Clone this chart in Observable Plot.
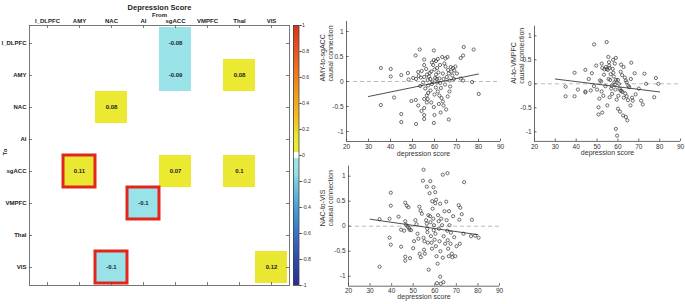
<!DOCTYPE html>
<html><head><meta charset="utf-8">
<script src="https://cdn.jsdelivr.net/npm/d3@7"></script>
<script src="https://cdn.jsdelivr.net/npm/@observablehq/plot@0.6"></script>
<style>
body{margin:0;background:#fff;}
#fig{position:relative;width:685px;height:304px;overflow:hidden;background:#fff;}
#fig svg{position:absolute;}
</style></head><body><div id="fig"></div>
<script>
// ---------- heatmap data ----------
const regions = ["l_DLPFC","AMY","NAC","AI","sgACC","VMPFC","Thal","VIS"];
const cellTo   = ["l_DLPFC","AMY","AMY","NAC","sgACC","sgACC","sgACC","VMPFC","VIS","VIS"];
const cellFrom = ["sgACC","sgACC","Thal","NAC","AMY","sgACC","Thal","AI","NAC","VIS"];
const cellValue = [-0.08,-0.09,0.08,0.08,0.11,0.07,0.1,-0.1,-0.1,0.12];
const cellSignificant = [false,false,false,false,true,false,false,true,true,false];

// ---------- colour bar ----------
const colorbarTicks = [-1,-0.8,-0.6,-0.4,-0.2,0,0.2,0.4,0.6,0.8,1];
const colorStops = [-1,-0.8,-0.6,-0.4,-0.2,-0.15,-0.025,-0.0249,0.0249,0.025,0.15,0.2,0.4,0.6,0.8,1];
const colorRange = ["#2c2c90","#2f4cae","#3a74c6","#48a2d6","#78cce0","#94e0e8","#9ee6ea","#ffffff","#ffffff","#ecec30","#e9e634","#efd424","#f2a81e","#ee7f1f","#e85621","#dd301e"];

// ---------- scatter axes ----------
const xTicks = [20,30,40,50,60,70,80,90];
const yTicks = [-1,-0.5,0,0.5,1];

// ---------- scatter data: [depression score, causal connection] ----------
const amyToSgacc = [[35.6,0.27],[35.6,-0.47],[40.1,0.25],[40.1,0.10],[41.6,-0.32],[44.9,0.13],[44.9,-0.65],[44.9,-0.81],[47.9,0.17],[48.2,0.04],[49.5,-0.39],[50.3,0.07],[51.4,0.52],[51.5,-0.37],[51.6,-0.85],[51.6,0.05],[52.6,0.19],[52.6,-0.48],[52.8,0.11],[53.3,0.64],[53.5,-0.09],[54.1,-0.59],[55.3,0.44],[55.3,0.33],[55.3,0.09],[55.3,-0.35],[55.3,-0.53],[55.3,-0.67],[55.3,-0.75],[54.8,-0.02],[56.6,0.14],[56.9,0.03],[57.1,-0.08],[57.1,-0.23],[56.5,-0.28],[56.9,-0.35],[56.5,-0.42],[58.5,0.2],[59.7,0.62],[59.7,0.43],[59.4,0.33],[60,0.24],[60.7,0.14],[60.3,0.07],[61.2,-0.02],[60.6,-0.12],[60,-0.26],[59.7,-0.51],[60,-0.67],[59.7,-0.83],[60.7,0.41],[61.2,0.27],[61.5,0.45],[62.2,0.06],[62.6,-0.03],[62.9,-0.13],[62.2,-0.28],[63.5,0.49],[63.8,0.16],[64.1,0.05],[63.8,-0.4],[64.1,-0.48],[65,0.46],[65.9,0.49],[66.2,0.23],[66.5,0.16],[66.8,0.02],[67.1,-0.1],[66.8,-0.2],[66.5,-0.76],[67.4,0.29],[67.7,0.2],[68.1,0.12],[68.8,0.05],[68.4,0.27],[69.5,0.3],[70.2,0.16],[71.9,0.47],[73,0.52],[73.3,0.69],[71.9,0.06],[73,0.02],[77.1,-0.01],[77.8,0.64],[80.1,-0.25],[57.5,0.1],[58.1,0.05],[58.8,-0.05],[59.1,0.0],[58.2,-0.18],[61.8,0.18],[62.5,0.33],[61.5,-0.2],[63.2,-0.33],[64.5,0.36],[64.8,-0.06],[65.6,0.09],[65.3,-0.56],[62.8,-0.62],[58.8,0.38],[57.8,0.17],[56.2,0.25],[54.2,0.21],[53.8,0.08],[55.8,-0.14],[58.5,-0.42],[61.0,0.05],[62.0,-0.45],[65.0,0.3],[69.0,0.22],[66.0,-0.3]];
const aiToVmpfc = [[34.9,-0.06],[34.9,-0.26],[39.2,0.23],[39.2,-0.26],[40.8,-0.12],[44.4,0.29],[44.4,-0.16],[44.4,-0.18],[47,-0.14],[47.5,0.22],[48.6,0.82],[49.6,0.38],[50.7,-0.49],[50.7,-0.64],[51.1,-0.31],[51.4,0.07],[52.2,0.42],[52.2,-0.16],[52.5,-0.6],[53.3,0.19],[54.2,0.35],[54.6,0.31],[54.6,0.87],[54.9,-0.45],[55.1,0.29],[55.4,0.56],[55.7,0.45],[56,0.33],[56.3,0.08],[56.8,-0.1],[57.2,-0.21],[57.5,0.31],[57.8,0.23],[58.3,0.03],[58.6,-0.01],[59.1,0.08],[59.4,-0.33],[59,-0.94],[59.6,-1.08],[60,0.08],[60.5,0],[60.8,-0.1],[61.2,-0.14],[61.7,-0.15],[62.2,-0.17],[62.5,-0.66],[63.3,0.13],[63.8,0.07],[64.2,0.03],[65,-0.04],[65.4,-0.07],[64.2,-0.26],[63.8,-0.69],[64.5,-0.76],[66.4,0.44],[66.8,-0.29],[67.1,-0.35],[68,0.22],[71.1,-0.35],[71.9,-0.43],[72.7,0.21],[73.5,0],[78.2,0.12],[77.4,-0.28],[79.4,0],[52.5,0.33],[53.5,0.3],[55.8,0.38],[57.7,0.5],[59,0.54],[56.5,0.2],[58,0.15],[61.3,0.25],[62,0.18],[61.5,0.4],[60.2,-0.25],[62.8,-0.29],[63.5,-0.2],[58.8,-0.12],[57,-0.04],[56,-0.28],[60,-0.52],[61,-0.58],[64.8,-0.34],[66,-0.45],[55.5,0.1],[52,0.05],[50,-0.12],[48.5,-0.05],[46,0.1],[53,-0.25],[66.2,0.1],[68.5,-0.22],[70,-0.1],[62.7,0.35],[58.5,0.42],[54,-0.05]];
const nacToVis = [[34.4,0.14],[34.4,-0.81],[39,0.15],[39,-0.23],[39.6,0.67],[39.6,0.41],[39.6,-0.37],[43.2,0.19],[44.4,-0.07],[45.8,-0.09],[44.4,-0.41],[46.3,0.47],[47,0.41],[47.8,0.38],[46.3,0.1],[46.7,0.03],[47.4,-0.01],[48.1,-0.03],[46.3,-0.61],[46.3,-0.69],[48.5,-0.64],[49,-0.08],[50.4,-0.3],[51,0.12],[51.5,0.04],[52,-0.15],[52.9,0.39],[53.4,0.31],[52.4,-0.25],[53,-0.55],[53.5,-0.62],[54,0.25],[54.8,1.13],[54.5,0.91],[54.8,-0.23],[55.2,-0.3],[55,-0.47],[55.4,-0.55],[56.3,0.79],[56.3,0.05],[56.5,-0.05],[56,0.12],[56.6,-0.12],[56.8,-0.33],[57.2,-0.87],[57.9,0.9],[57.6,0.66],[57.8,0.2],[58,0.08],[58.2,-0.2],[58.5,-0.33],[58.7,-0.45],[59.4,0.78],[59,0.35],[59.3,0.15],[59.6,0.02],[59.5,-0.08],[59.9,-0.27],[60.2,0.68],[60.2,0.46],[60.6,0.53],[60.3,-0.15],[60.5,-0.4],[60.8,-0.6],[61.3,-0.75],[61,-1.14],[61.5,0.22],[61.8,0.1],[61.9,-0.05],[62.2,-0.3],[62.5,-1.01],[62.8,-1.15],[62.6,-0.5],[63,0.15],[63.4,0.02],[63.7,1.03],[63.7,-0.63],[64,-1.12],[64.1,-0.2],[64.5,0.3],[64.8,-0.35],[65.3,0.49],[65.9,1.06],[65.5,0.12],[65.8,-0.09],[66,-0.28],[66.2,-0.45],[66.6,0.3],[66.8,0.02],[67.3,-0.35],[67.5,-0.13],[67.9,-0.55],[68.2,-0.62],[68.5,0.2],[69,-0.22],[69.5,-0.6],[70.1,-0.4],[71.1,0.42],[71.8,0.37],[71.4,0.13],[72.5,0.24],[71.6,-0.35],[73.6,0.88],[73.3,-0.15],[77.2,0.13],[76.8,-0.2],[78.7,-0.19],[80.3,-0.23],[48.3,-0.07],[50,-0.44],[57,0.22],[58.8,0.5],[62.5,0.45],[66.5,-0.6]];

// least-squares fit lines (endpoints)
const amyFit = [[30,-0.30],[80,0.15]];
const aiFit  = [[30,0.10],[80,-0.17]];
const nacFit = [[30,0.14],[80,-0.17]];

const FONT = "'Liberation Sans', Arial, Helvetica, sans-serif";
const fig = document.getElementById("fig");
function place(svg, left, top) {
  svg.style.left = left + "px";
  svg.style.top = top + "px";
  fig.appendChild(svg);
}

// ---------- heatmap ----------
const cells = cellTo.map((t, i) => ({to: t, from: cellFrom[i], v: cellValue[i], sig: cellSignificant[i]}));
const colorScale = {type: "linear", domain: colorStops, range: colorRange, interpolate: "rgb"};
const hmW = 260;
const heat = Plot.plot({
  width: 292, height: 304,
  marginLeft: 29, marginRight: 3, marginTop: 25, marginBottom: 19,
  style: {fontFamily: FONT, fontSize: "6px", background: "none", color: "#222", overflow: "visible"},
  x: {domain: regions, padding: 0, axis: null},
  y: {domain: regions, padding: 0, axis: null},
  color: colorScale,
  marks: [
    Plot.cell(cells, {x: "from", y: "to", fill: "v", inset: 0}),
    Plot.cell(cells.filter(d => d.sig), {x: "from", y: "to", fill: "none", stroke: "#e2261c", strokeWidth: 3, inset: 0}),
    Plot.text(cells, {x: "from", y: "to", text: d => String(d.v), fontWeight: "bold", fontSize: 6, fill: "#222"}),
    Plot.frame({stroke: "#555", strokeWidth: 0.8}),
    Plot.ruleX(regions, {x: d => d, insetBottom: hmW - 3, stroke: "#555", strokeWidth: 0.8}),
    Plot.ruleX(regions, {x: d => d, insetTop: hmW - 3, stroke: "#555", strokeWidth: 0.8}),
    Plot.ruleY(regions, {y: d => d, insetRight: hmW - 3, stroke: "#555", strokeWidth: 0.8}),
    Plot.ruleY(regions, {y: d => d, insetLeft: hmW - 3, stroke: "#555", strokeWidth: 0.8}),
    Plot.axisX({anchor: "top", tickSize: 0, tickPadding: 3, fontWeight: "bold", label: null}),
    Plot.axisY({anchor: "left", tickSize: 0, tickPadding: 3, fontWeight: "bold", label: null}),
    Plot.text(["Depression Score"], {text: d => d, frameAnchor: "top", dy: -21, fontWeight: "bold", fontSize: 7.5}),
    Plot.text(["From"], {text: d => d, frameAnchor: "top", dy: -13, fontWeight: "bold", fontSize: 6}),
    Plot.text(["To"], {text: d => d, frameAnchor: "left", dx: -24, rotate: -90, fontWeight: "bold", fontSize: 6})
  ]
});
place(heat, 0, 0);

// ---------- colour bar ----------
const step = 0.01;
const barData = d3.range(-1, 1 - step / 2, step).map(v => ({v0: v, v1: v + step * 1.3, v: v + step / 2}));
const bar = Plot.plot({
  width: 30, height: 304,
  marginLeft: 5, marginRight: 19.5, marginTop: 25, marginBottom: 19,
  style: {fontFamily: FONT, fontSize: "5.2px", background: "none", color: "#333", overflow: "visible"},
  x: {domain: [0, 1], axis: null},
  y: {domain: [-1, 1], axis: null, clamp: true},
  color: colorScale,
  marks: [
    Plot.rect(barData, {x1: () => 0, x2: () => 1, y1: "v0", y2: "v1", fill: "v", shapeRendering: "crispEdges"}),
    Plot.frame({stroke: "#444", strokeWidth: 0.8}),
    Plot.axisY(colorbarTicks, {anchor: "right", tickSize: 2, tickPadding: 1, tickFormat: d => String(d), label: null})
  ]
});
place(bar, 288, 0);

// ---------- scatter panels ----------
function scatter(o) {
  const yMin = -1.2, yMax = 1.2;
  return Plot.plot({
    width: o.width, height: o.height,
    marginLeft: o.mL, marginRight: o.mR, marginTop: o.mT, marginBottom: o.mB,
    style: {fontFamily: FONT, fontSize: "6.5px", background: "none", color: "#333", overflow: "visible"},
    x: {domain: [20, 90], axis: null},
    y: {domain: [yMin, yMax], axis: null},
    marks: [
      Plot.ruleY([0], {stroke: "#aaaaaa", strokeDasharray: "4,3", strokeWidth: 0.8}),
      Plot.ruleX([20], {stroke: "#444", strokeWidth: 0.8}),
      Plot.ruleY([yMin], {stroke: "#444", strokeWidth: 0.8}),
      Plot.ruleX(xTicks, {x: d => d, y1: yMin, y2: yMin + 0.05, stroke: "#444", strokeWidth: 0.8}),
      Plot.ruleY(yTicks, {y: d => d, x1: 20, x2: 21.2, stroke: "#444", strokeWidth: 0.8}),
      Plot.axisX(xTicks, {tickSize: 0, tickPadding: o.xPad, tickFormat: d => String(d), label: null}),
      Plot.axisY(yTicks, {tickSize: 0, tickPadding: 3, tickFormat: d => String(d), label: null}),
      Plot.dot(o.data, {x: d => d[0], y: d => d[1], r: 1.6, stroke: "#333", strokeWidth: 0.7, fill: "none"}),
      Plot.line(o.fit, {x: d => d[0], y: d => d[1], stroke: "#222", strokeWidth: 0.8}),
      Plot.text([o.label], {text: d => d, frameAnchor: "left", dx: o.labelDx, rotate: -90, fontSize: 7, lineHeight: 1.15, fill: "#333"}),
      Plot.text(["depression score"], {text: d => d, frameAnchor: "bottom", dy: o.xLabelDy, fontSize: 7, fill: "#333"})
    ]
  });
}

place(scatter({data: amyToSgacc, fit: amyFit, label: "AMY-to-sgACC\ncausal connection",
  width: 205, height: 148, mL: 46, mR: 5, mT: 6, mB: 22, labelDx: -20, xPad: 3, xLabelDy: 14}), 300, 15);

place(scatter({data: aiToVmpfc, fit: aiFit, label: "AI-to-VMPFC\ncausal connection",
  width: 195, height: 148, mL: 44, mR: 5, mT: 10.7, mB: 22.1, labelDx: -17.5, xPad: 3, xLabelDy: 14}), 490, 15);

place(scatter({data: nacToVis, fit: nacFit, label: "NAC-to-VIS\ncausal connection",
  width: 205, height: 146, mL: 48, mR: 6, mT: 7.7, mB: 18.3, labelDx: -22, xPad: 2, xLabelDy: 12.7}), 300, 158);
</script>
</body></html>
